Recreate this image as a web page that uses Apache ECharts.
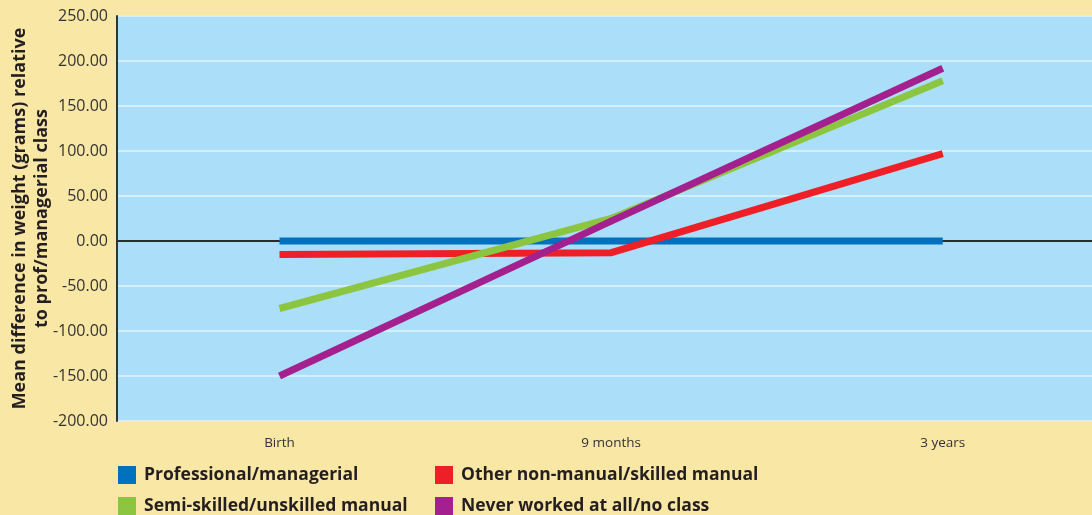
<!DOCTYPE html>
<html>
<head>
<meta charset="utf-8">
<script src="https://cdn.jsdelivr.net/npm/echarts@6/dist/echarts.min.js"></script>
<style>
  html, body { margin: 0; padding: 0; background: #f9e7a6; }
  #chart { width: 1092px; height: 515px; }
</style>
</head>
<body>
<div id="chart"></div>
<script>
// Time points along the x axis
const ages = ['Birth', '9 months', '3 years'];

// Mean difference in weight (grams) relative to professional/managerial class
const professional = [0, 0, 0];
const otherNonManual = [-15, -13, 97];
const semiSkilled = [-75, 25, 178];
const neverWorked = [-150, 22, 192];

const seriesNames = [
  'Professional/managerial',
  'Semi-skilled/unskilled manual',
  'Other non-manual/skilled manual',
  'Never worked at all/no class'
];

const yTicks = { min: -200, max: 250, interval: 50 };

const toPoints = arr => arr.map((v, i) => [i, v]);

const chart = echarts.init(document.getElementById('chart'));
const lineStyle = w => ({ width: w, cap: 'butt', join: 'miter' });
const fontFamily = '"Open Sans", "Noto Sans", sans-serif';
const legendText = { fontSize: 17.5, fontWeight: 'bold', color: '#231f20', fontFamily, padding: [0, 0, 0, 3] };

chart.setOption({
  backgroundColor: '#f9e7a6',
  animation: false,
  textStyle: { fontFamily },
  grid: {
    left: 117, right: 0, top: 16, bottom: 94,
    outerBoundsMode: 'none', containLabel: false,
    show: true, backgroundColor: '#abdff9', borderWidth: 0
  },
  legend: [
    {
      orient: 'vertical', left: 118, top: 466, itemGap: 13, padding: 0, height: 60,
      itemWidth: 18, itemHeight: 18, icon: 'rect', itemStyle: { borderWidth: 0 },
      data: [seriesNames[0], seriesNames[1]],
      textStyle: legendText
    },
    {
      orient: 'vertical', left: 435, top: 466, itemGap: 13, padding: 0, height: 60,
      itemWidth: 18, itemHeight: 18, icon: 'rect', itemStyle: { borderWidth: 0 },
      data: [seriesNames[2], seriesNames[3]],
      textStyle: legendText
    }
  ],
  xAxis: {
    type: 'value',
    min: -0.49, max: 2.45,
    axisLine: { show: false, onZero: false },
    axisTick: { show: false },
    splitLine: { show: false },
    axisLabel: {
      customValues: [0, 1, 2],
      formatter: v => ages[Math.round(v)],
      color: '#333', fontSize: 13.5, margin: 15, fontFamily
    }
  },
  yAxis: {
    type: 'value',
    min: yTicks.min, max: yTicks.max, interval: yTicks.interval,
    name: 'Mean difference in weight (grams) relative\nto prof/managerial class',
    nameLocation: 'middle', nameGap: 64, nameRotate: 90, nameMoveOverlap: false,
    nameTextStyle: { fontSize: 18, fontWeight: 'bold', color: '#231f20', lineHeight: 22, fontFamily },
    axisLine: { show: true, onZero: false, lineStyle: { color: '#333', width: 2 } },
    axisTick: { show: false },
    axisLabel: {
      formatter: v => v.toFixed(2),
      color: '#333', fontSize: 16, margin: 9, fontFamily
    },
    splitLine: { show: true, lineStyle: { color: '#d3effc', width: 2 } }
  },
  series: [
    {
      name: seriesNames[0], type: 'line', data: toPoints(professional),
      symbol: 'none', color: '#0070bf', lineStyle: lineStyle(7), z: 3,
      markLine: {
        silent: true, symbol: 'none', label: { show: false },
        lineStyle: { color: '#2b2b2b', width: 2, type: 'solid' },
        data: [{ yAxis: 0 }], z: 1
      }
    },
    {
      name: seriesNames[2], type: 'line', data: toPoints(otherNonManual),
      symbol: 'none', color: '#ee1f27', lineStyle: lineStyle(7), z: 4
    },
    {
      name: seriesNames[1], type: 'line', data: toPoints(semiSkilled),
      symbol: 'none', color: '#8cc641', lineStyle: lineStyle(7), z: 5
    },
    {
      name: seriesNames[3], type: 'line', data: toPoints(neverWorked),
      symbol: 'none', color: '#a4208f', lineStyle: lineStyle(7), z: 6
    }
  ]
});
</script>
</body>
</html>
